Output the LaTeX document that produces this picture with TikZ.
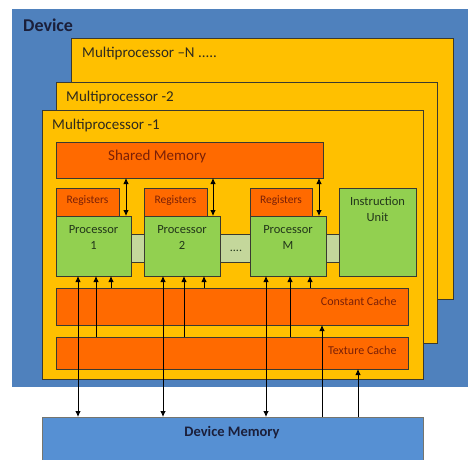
\documentclass[tikz,border=0pt]{standalone}
\usepackage{fontspec}
\setmainfont{Carlito}
\usetikzlibrary{arrows.meta}
\definecolor{devblue}{HTML}{4F81BD}
\definecolor{memblue}{HTML}{5690D3}
\definecolor{mpyellow}{HTML}{FFC000}
\definecolor{memorange}{HTML}{FF6A00}
\definecolor{procgreen}{HTML}{92D050}
\definecolor{busgreen}{HTML}{C4D79B}
\definecolor{edge}{HTML}{3A3A30}
\definecolor{navytext}{HTML}{1B1F3A}
\definecolor{darktext}{HTML}{2E2A1E}
\definecolor{redtext}{HTML}{7A2008}
\definecolor{greentext}{HTML}{22361A}
\begin{document}
\begin{tikzpicture}[x=1pt,y=-1pt,
  blk/.style={anchor=north west, inner sep=0pt, outer sep=0pt, draw=edge, line width=0.75pt},
  mp/.style={blk, fill=mpyellow},
  mem/.style={blk, fill=memorange},
  proc/.style={blk, fill=procgreen},
  txt/.style={inner sep=0pt, anchor=base},
  tip/.tip={Latex[length=6pt,width=5.5pt]},
  arr/.style={line width=0.8pt, -tip},
  dbl/.style={line width=0.8pt, tip-tip}
]
\useasboundingbox (0,0) rectangle (468,459);

% device and the stacked multiprocessors
\node[anchor=north west, inner sep=0pt, fill=devblue, minimum width=456pt, minimum height=378pt] (device) at (12,9) {};
\node[txt, anchor=base west, text=navytext, font=\fontsize{18}{20}\selectfont\bfseries] (devlbl) at (23,31) {Device};

\node[mp, minimum width=382pt, minimum height=261pt] (mpn) at (71,38) {};
\node[txt, anchor=base west, text=darktext, font=\fontsize{15}{17}\selectfont] (mpnlbl) at (82,57.3) {Multiprocessor –N .....};

\node[mp, minimum width=381pt, minimum height=261pt] (mp2) at (56,82) {};
\node[txt, anchor=base west, text=darktext, font=\fontsize{15}{17}\selectfont] (mp2lbl) at (66,101.7) {Multiprocessor -2};

\node[mp, minimum width=381pt, minimum height=269pt] (mp1) at (42,110) {};
\node[txt, anchor=base west, text=darktext, font=\fontsize{15}{17}\selectfont] (mp1lbl) at (52,129.3) {Multiprocessor -1};

% shared memory
\node[mem, minimum width=267pt, minimum height=36pt] (sm) at (56,142) {};
\node[txt, anchor=base west, text=redtext, font=\fontsize{15}{17}\selectfont] (smlbl) at (108,160) {Shared Memory};

% bus between the processors
\node[blk, fill=busgreen, minimum width=208pt, minimum height=28pt] (bus) at (131,234) {};
\node[txt, text=greentext, font=\fontsize{12}{14}\selectfont] (dots) at (236,251) {....};

% registers and processors
\node[mem, minimum width=63pt, minimum height=28pt] (r1) at (56,188) {};
\node[mem, minimum width=63pt, minimum height=28pt] (r2) at (144,188) {};
\node[mem, minimum width=62pt, minimum height=28pt] (rm) at (250,188) {};
\foreach \r in {r1,r2,rm}
  \node[txt, text=redtext, font=\fontsize{11.5}{13}\selectfont] (\r lbl) at ([yshift=-15pt]\r.north) {Registers};

\node[proc, minimum width=75pt, minimum height=60pt] (p1) at (56,216) {};
\node[proc, minimum width=76pt, minimum height=60pt] (p2) at (144,216) {};
\node[proc, minimum width=76pt, minimum height=60pt] (pm) at (250,216) {};
\node[proc, minimum width=77pt, minimum height=88pt] (iu) at (339,188) {};

\node[txt, text=greentext, font=\fontsize{12.5}{14}\selectfont] (p1a) at ([yshift=-17.3pt]p1.north) {Processor};
\node[txt, text=greentext, font=\fontsize{12.5}{14}\selectfont] (p1b) at ([yshift=-33.3pt]p1.north) {1};
\node[txt, text=greentext, font=\fontsize{12.5}{14}\selectfont] (p2a) at ([yshift=-17.3pt]p2.north) {Processor};
\node[txt, text=greentext, font=\fontsize{12.5}{14}\selectfont] (p2b) at ([yshift=-33.3pt]p2.north) {2};
\node[txt, text=greentext, font=\fontsize{12.5}{14}\selectfont] (pma) at ([yshift=-17.3pt]pm.north) {Processor};
\node[txt, text=greentext, font=\fontsize{12.5}{14}\selectfont] (pmb) at ([yshift=-33.3pt]pm.north) {M};
\node[txt, text=greentext, font=\fontsize{12.5}{14}\selectfont] (iua) at ([yshift=-17pt]iu.north) {Instruction};
\node[txt, text=greentext, font=\fontsize{12.5}{14}\selectfont] (iub) at ([yshift=-33.7pt]iu.north) {Unit};

% caches
\node[mem, minimum width=352pt, minimum height=37pt] (cc) at (56,288) {};
\node[txt, anchor=base east, text=redtext, font=\fontsize{12}{14}\selectfont] (cclbl) at (396.7,305) {Constant Cache};
\node[mem, minimum width=352pt, minimum height=32pt] (tc) at (56,337) {};
\node[txt, anchor=base east, text=redtext, font=\fontsize{12}{14}\selectfont] (tclbl) at (396.7,354) {Texture Cache};

% device memory
\node[anchor=north west, inner sep=0pt, outer sep=0pt, fill=memblue, draw=edge!70, line width=0.6pt, minimum width=381pt, minimum height=50pt] (dm) at (42,417) {};
\node[txt, text=navytext, font=\fontsize{14.5}{16}\selectfont\bfseries] (dmlbl) at (232,436.7) {Device Memory};

% shared memory <-> processors
\draw[dbl] ([xshift=-5pt]p1.north east) -- ([xshift=-5pt]p1.north east |- sm.south);
\draw[dbl] ([xshift=-7pt]p2.north east) -- ([xshift=-7pt]p2.north east |- sm.south);
\draw[dbl] ([xshift=-7pt]pm.north east) -- ([xshift=-7pt]pm.north east |- sm.south);

% processors <-> device memory
\draw[dbl] ([xshift=22pt]p1.south west) -- ([xshift=22pt]p1.south west |- dm.north);
\draw[dbl] ([xshift=19pt]p2.south west) -- ([xshift=19pt]p2.south west |- dm.north);
\draw[dbl] ([xshift=16pt]pm.south west) -- ([xshift=16pt]pm.south west |- dm.north);

% texture cache -> processors
\draw[arr] ([xshift=40pt]p1.south west |- tc.north) -- ([xshift=40pt]p1.south west);
\draw[arr] ([xshift=40pt]p2.south west |- tc.north) -- ([xshift=40pt]p2.south west);
\draw[arr] ([xshift=40pt]pm.south west |- tc.north) -- ([xshift=40pt]pm.south west);

% constant cache -> processors
\draw[arr] ([xshift=55pt]p1.south west |- cc.north) -- ([xshift=55pt]p1.south west);
\draw[arr] ([xshift=60pt]p2.south west |- cc.north) -- ([xshift=60pt]p2.south west);
\draw[arr] ([xshift=60pt]pm.south west |- cc.north) -- ([xshift=60pt]pm.south west);

% device memory -> caches
\draw[arr] ([xshift=280pt]dm.north west) -- ([xshift=280pt]dm.north west |- cc.south);
\draw[arr] ([xshift=316pt]dm.north west) -- ([xshift=316pt]dm.north west |- tc.south);
\end{tikzpicture}
\end{document}
